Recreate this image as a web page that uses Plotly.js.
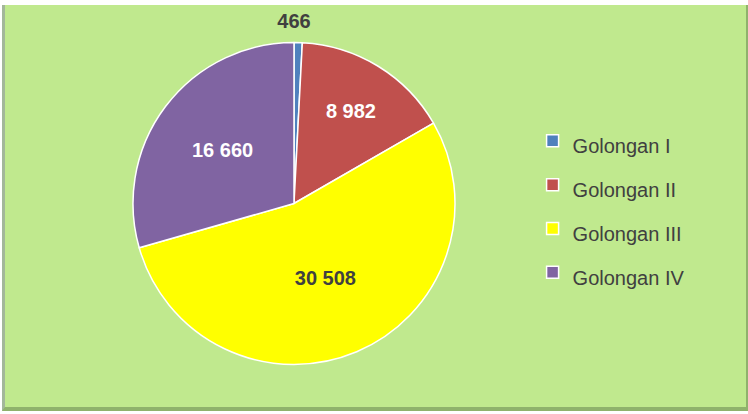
<!DOCTYPE html>
<html>
<head>
<meta charset="utf-8">
<script src="https://cdn.plot.ly/plotly-3.0.1.min.js"></script>
<style>
  html, body { margin: 0; padding: 0; background: #ffffff; }
  #wrap { position: absolute; left: 2px; top: 5px; width: 741px; height: 402px;
          border-left: 3px solid #a3b79a; border-right: 3px solid #8fb26c; border-bottom: 4px solid #8fb26c;
          background: #c0e98e; }
  #chart { width: 741px; height: 402px; }
</style>
</head>
<body>
<div id="wrap"><div id="chart"></div></div>
<script>
// Data
var categories = ["Golongan I", "Golongan II", "Golongan III", "Golongan IV"];
var values = [466, 8982, 30508, 16660];
var colors = ["#4f81bd", "#c0504d", "#ffff00", "#8064a2"];
var labelColors = ["#ffffff", "#ffffff", "#404040", "#ffffff"];
var positions = ["none", "inside", "inside", "inside"];

function fmt(v) { return String(v).replace(/\B(?=(\d{3})+(?!\d))/g, " "); }

var W = 741, H = 402;
var cx = 289, cy = 200.5, r = 161, th = 26;

var trace = {
  type: "pie",
  labels: categories.map(function (c) { return "<span style='font-size:20px'>" + c + "</span>"; }),
  values: values,
  sort: false,
  direction: "clockwise",
  rotation: 0,
  marker: { colors: colors, line: { color: "#ffffff", width: 1.5 } },
  texttemplate: "%{value:,}",
  textposition: positions,
  insidetextorientation: "horizontal",
  textfont: { family: "Liberation Sans, Arial, sans-serif", size: 20, color: labelColors, weight: "bold" },
  // label of the tiny first slice, shown centred above the pie
  title: { text: "<span style='font-size:20px'>" + fmt(values[0]) + "</span>", position: "top center",
           font: { family: "Liberation Sans, Arial, sans-serif", size: 7, color: "#404040", weight: "bold" } },
  hoverinfo: "none",
  domain: { x: [(cx - r) / W, (cx + r) / W], y: [(H - cy - r) / H, (H - cy + r + th) / H] }
};

var layout = {
  width: W, height: H,
  margin: { l: 0, r: 0, t: 0, b: 0 },
  paper_bgcolor: "rgba(0,0,0,0)",
  plot_bgcolor: "rgba(0,0,0,0)",
  separators: ", ",
  showlegend: true,
  legend: {
    x: 0.712, xanchor: "left",
    y: 0.729, yanchor: "top",
    bgcolor: "rgba(0,0,0,0)",
    font: { family: "Liberation Sans, Arial, sans-serif", size: 31.4, color: "#404040" },
    valign: "middle"
  }
};

Plotly.newPlot("chart", [trace], layout, { displayModeBar: false, staticPlot: true });
</script>
</body>
</html>
